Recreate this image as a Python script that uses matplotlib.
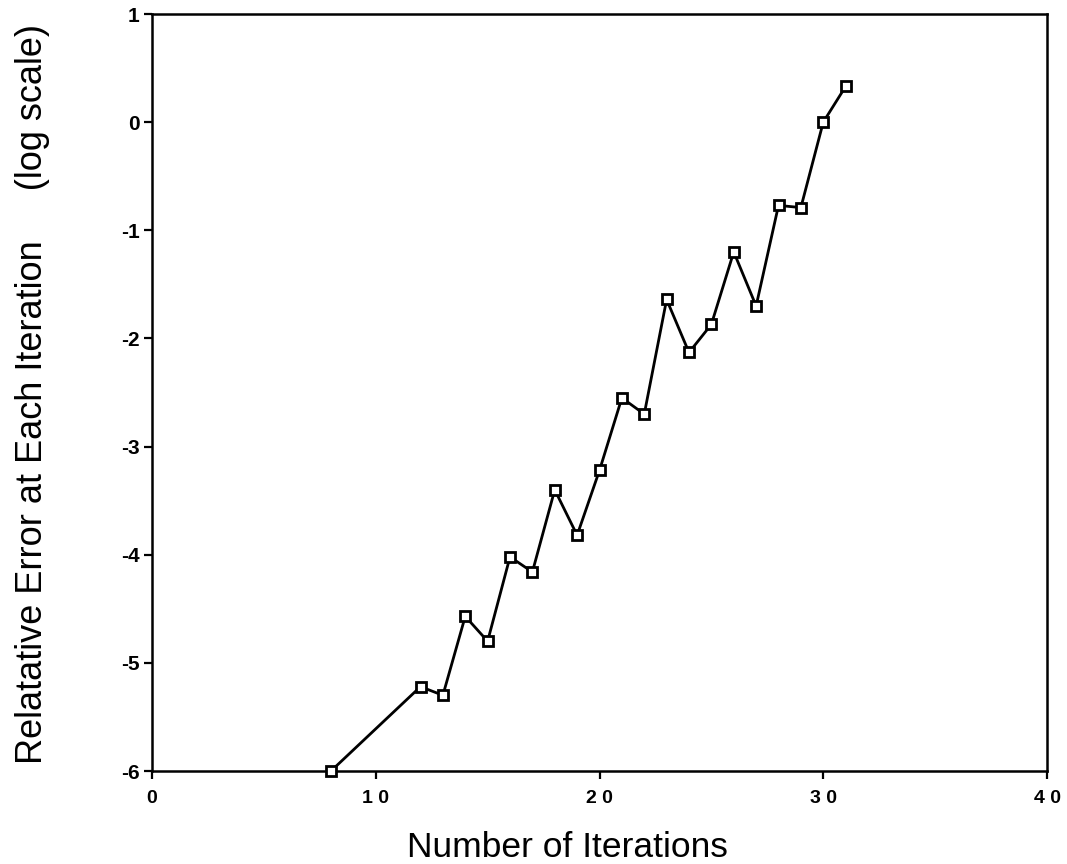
import matplotlib.pyplot as plt

plt.rcParams['font.family'] = ['Liberation Sans', 'DejaVu Sans']

# iteration number and log10 of relative error
iterations = [8, 12, 13, 14, 15, 16, 17, 18, 19, 20, 21, 22, 23, 24, 25, 26, 27, 28, 29, 30, 31]
log_error = [-6.0, -5.22, -5.3, -4.57, -4.8, -4.02, -4.16, -3.4, -3.82, -3.22, -2.55, -2.7,
             -1.64, -2.13, -1.87, -1.2, -1.7, -0.77, -0.79, 0.0, 0.33]

x_ticks = [0, 10, 20, 30, 40]
x_tick_labels = ['0', '1 0', '2 0', '3 0', '4 0']
y_ticks = [1, 0, -1, -2, -3, -4, -5, -6]

W, H = 1067, 864
fig = plt.figure(figsize=(W / 100, H / 100), dpi=100)
ax = fig.add_axes([152 / W, 1 - 771 / H, (1047 - 152) / W, (771 - 14) / H])

ax.plot(iterations, log_error, color='black', linewidth=2.0, marker='s', markersize=7,
        markerfacecolor='white', markeredgecolor='black', markeredgewidth=2.0, clip_on=False, zorder=3)

ax.set_xlim(0, 40)
ax.set_ylim(-6, 1)
ax.set_xticks(x_ticks)
ax.set_xticklabels(x_tick_labels, fontsize=14, fontweight='bold')
ax.set_yticks(y_ticks)
ax.set_yticklabels([str(v) for v in y_ticks], fontsize=15, fontweight='bold')
ax.tick_params(direction='out', length=6, width=1.6)
ax.tick_params(axis='x', pad=8)
ax.tick_params(axis='y', pad=3)
for s in ax.spines.values():
    s.set_linewidth(1.8)

fig.text(567 / W, 1 - 857 / H, 'Number of Iterations', fontsize=25.5,
         ha='center', va='baseline')
fig.text(33 / W, 1 - 394 / H, 'Relatative Error at Each Iteration     (log scale)',
         fontsize=26, rotation=90, ha='center', va='center')

fig.savefig('out.png', dpi=100)
